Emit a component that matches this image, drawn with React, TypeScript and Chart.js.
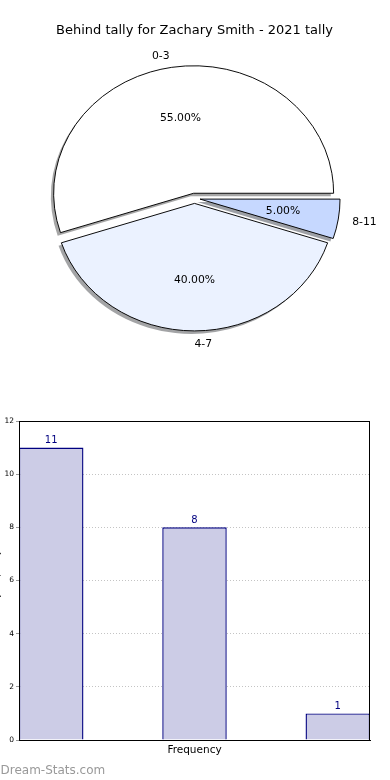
import React, { useEffect, useRef } from 'react';
import { Chart, registerables } from 'chart.js';

Chart.register(...registerables);
Chart.defaults.font.family = "'DejaVu Sans', sans-serif";

// ---- data ----
const chartTitle = 'Behind tally for Zachary Smith - 2021 tally';
const categories = ['0-3', '4-7', '8-11'];
const tallies = [11, 8, 1];
const sliceColors = ['#ffffff', '#ebf2ff', '#c6d8ff'];
const explode = [0.04, 0.04, 0.04];
const barTickLabel = 'Frequency';
const yAxisTitle = 'Tally frequency';
const yMax = 12;
const yStep = 2;
const watermark = 'Dream-Stats.com';

// ---- style constants ----
const FONT = "'DejaVu Sans', sans-serif";
const PIE_R = 140;
const PIE_K = 127.5 / 140;
const SHADOW_DX = -2.8;
const SHADOW_DY = 3.0;

function shadowOf(hex: string): string {
  const h = hex.replace('#', '');
  const r = parseInt(h.slice(0, 2), 16);
  const g = parseInt(h.slice(2, 4), 16);
  const b = parseInt(h.slice(4, 6), 16);
  return `rgba(${Math.round(r * 0.3)},${Math.round(g * 0.3)},${Math.round(b * 0.3)},0.5)`;
}

// draw order for a clockwise Chart.js pie so it matches the counter-clockwise original
const order = [2, 1, 0];

const piePlugin = {
  id: 'pieExtras',
  afterDatasetsUpdate(chart: any) {
    const meta = chart.getDatasetMeta(0);
    meta.data.forEach((arc: any, i: number) => {
      const j = order[i];
      const mid = (arc.startAngle + arc.endAngle) / 2;
      const e = explode[j] * arc.outerRadius;
      arc.x += Math.cos(mid) * e;
      arc.y += Math.sin(mid) * e;
    });
  },
  beforeDatasetsDraw(chart: any) {
    const { ctx, chartArea } = chart;
    const cx = (chartArea.left + chartArea.right) / 2;
    const cy = (chartArea.top + chartArea.bottom) / 2;
    ctx.save();
    ctx.translate(cx, cy);
    ctx.scale(1, PIE_K);
    ctx.translate(-cx, -cy);
    const meta = chart.getDatasetMeta(0);
    meta.data.forEach((arc: any, i: number) => {
      const j = order[i];
      const x = arc.x + SHADOW_DX;
      const y = arc.y + SHADOW_DY / PIE_K;
      ctx.beginPath();
      ctx.moveTo(x, y);
      ctx.arc(x, y, arc.outerRadius, arc.startAngle, arc.endAngle);
      ctx.closePath();
      ctx.fillStyle = shadowOf(sliceColors[j]);
      ctx.fill();
    });
  },
  afterDatasetsDraw(chart: any) {
    const { ctx, chartArea } = chart;
    ctx.restore();
    const cy = (chartArea.top + chartArea.bottom) / 2;
    const total = tallies.reduce((a, b) => a + b, 0);
    const meta = chart.getDatasetMeta(0);
    ctx.save();
    ctx.fillStyle = '#000';
    ctx.font = `10.8px ${FONT}`;
    ctx.textBaseline = 'middle';
    meta.data.forEach((arc: any, i: number) => {
      const j = order[i];
      const mid = (arc.startAngle + arc.endAngle) / 2;
      const R = arc.outerRadius;
      // outer label
      const lx = arc.x + Math.cos(mid) * R * 1.1;
      const ly = cy + (arc.y + Math.sin(mid) * R * 1.1 - cy) * PIE_K + 1;
      ctx.textAlign = Math.cos(mid) >= -1e-6 ? 'left' : 'right';
      ctx.fillText(categories[j], lx, ly);
      // percentage
      const px = arc.x + Math.cos(mid) * R * 0.6;
      const py = cy + (arc.y + Math.sin(mid) * R * 0.6 - cy) * PIE_K;
      ctx.textAlign = 'center';
      ctx.fillText(((tallies[j] / total) * 100).toFixed(2) + '%', px, py);
    });
    // title
    ctx.font = `13px ${FONT}`;
    ctx.textAlign = 'center';
    ctx.fillText(chartTitle, 194.5, 31);
    ctx.restore();
  },
};

const barPlugin = {
  id: 'barExtras',
  afterDatasetsDraw(chart: any) {
    const { ctx, chartArea } = chart;
    ctx.save();
    // frame
    ctx.strokeStyle = '#000';
    ctx.lineWidth = 1;
    ctx.strokeRect(
      Math.round(chartArea.left) + 0.5,
      Math.round(chartArea.top) + 0.5,
      Math.round(chartArea.right - chartArea.left) - 1,
      Math.round(chartArea.bottom - chartArea.top)
    );
    // value labels
    const meta = chart.getDatasetMeta(0);
    ctx.fillStyle = '#000080';
    ctx.font = `10px ${FONT}`;
    ctx.textAlign = 'center';
    ctx.textBaseline = 'bottom';
    meta.data.forEach((bar: any, i: number) => {
      ctx.fillText(String(tallies[i]), bar.x, bar.y - 2);
    });
    // watermark
    ctx.fillStyle = '#999999';
    ctx.font = `12px ${FONT}`;
    ctx.textAlign = 'left';
    ctx.textBaseline = 'middle';
    ctx.fillText(watermark, 0.5, 371);
    ctx.restore();
  },
};

export default function App() {
  const pieRef = useRef<HTMLCanvasElement>(null);
  const barRef = useRef<HTMLCanvasElement>(null);

  useEffect(() => {
    const pieData = order.map((j) => tallies[j]);
    const pieLabels = order.map((j) => categories[j]);
    const pieColors = order.map((j) => sliceColors[j]);

    const pie = new Chart(pieRef.current as HTMLCanvasElement, {
      type: 'pie',
      data: {
        labels: pieLabels,
        datasets: [
          {
            data: pieData,
            backgroundColor: pieColors,
            borderColor: '#000',
            borderWidth: 1,
            borderJoinStyle: 'miter',
            rotation: 90,
            radius: PIE_R,
            clip: false,
          } as any,
        ],
      },
      options: {
        responsive: false,
        animation: false,
        events: [],
        layout: { padding: { left: 54.5, right: 55.5, top: 58.3, bottom: 61.7 } },
        plugins: {
          legend: { display: false },
          tooltip: { enabled: false },
          title: { display: false },
        },
      },
      plugins: [piePlugin],
    });

    const bar = new Chart(barRef.current as HTMLCanvasElement, {
      type: 'bar',
      data: {
        datasets: [
          {
            data: tallies.map((v, i) => ({ x: i, y: v })),
            backgroundColor: '#ccccE6',
            borderColor: '#000080',
            borderWidth: 1.4,
            barPercentage: 0.45,
            categoryPercentage: 1,
          } as any,
        ],
      },
      options: {
        responsive: false,
        animation: false,
        events: [],
        layout: { padding: { top: 21, right: 20, left: 0, bottom: 0 } },
        scales: {
          x: {
            type: 'linear',
            min: -0.225,
            max: 2.225,
            offset: false,
            grid: { display: false, drawTicks: false, offset: false },
            border: { display: true, color: '#000', width: 1 },
            afterBuildTicks: (s: any) => {
              s.ticks = [{ value: 1 }];
            },
            afterFit: (s: any) => {
              s.height = 40;
            },
            ticks: {
              callback: () => barTickLabel,
              color: '#000',
              font: { size: 10.5, family: FONT },
              padding: 4,
              autoSkip: false,
              maxRotation: 0,
            },
          } as any,
          y: {
            min: 0,
            max: yMax,
            ticks: { stepSize: yStep, color: '#000', font: { size: 7.5, family: FONT }, padding: 2 },
            grid: { color: '#c4c4c4', tickColor: '#999', tickLength: 3, lineWidth: 1 },
            border: { color: '#000', width: 1, dash: [1, 2] },
            title: {
              display: true,
              text: yAxisTitle,
              color: '#000',
              font: { size: 8, family: FONT },
              padding: { top: -7.5, bottom: 0 },
            },
            afterFit: (s: any) => {
              s.width = 19;
            },
          } as any,
        },
        plugins: {
          legend: { display: false },
          tooltip: { enabled: false },
        },
      },
      plugins: [barPlugin],
    });

    return () => {
      pie.destroy();
      bar.destroy();
    };
  }, []);

  return (
    <div style={{ position: 'absolute', left: 0, top: 0, width: 390, height: 780, background: '#fff', overflow: 'hidden' }}>
      <canvas ref={pieRef} width={390} height={400} style={{ position: 'absolute', left: 0, top: 0 }} />
      <canvas ref={barRef} width={390} height={380} style={{ position: 'absolute', left: 0, top: 400 }} />
    </div>
  );
}
